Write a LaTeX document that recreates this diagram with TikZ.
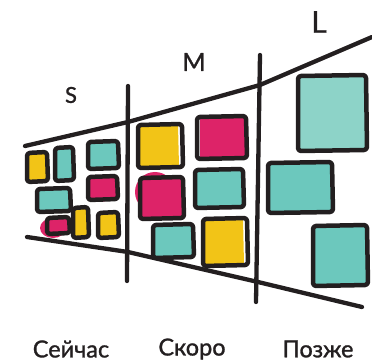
\documentclass[tikz,border=0pt]{standalone}
\usepackage{fontspec}
\setmainfont{Lato}[FakeBold=1.2]
\definecolor{notey}{HTML}{F2C417}
\definecolor{notem}{HTML}{DD2368}
\definecolor{notet}{HTML}{6CC8BD}
\definecolor{notel}{HTML}{8DD3C8}
\definecolor{ink}{HTML}{231F20}

% one hand drawn sticky note: fill style, x1, y1, x2, y2
\newcommand{\stickynote}[5]{
  \fill[#1] (#2+1,#3+1) -- (#4-1,#3) -- (#4,#5-1) -- (#2+1,#5) -- cycle;
  \draw[note edge] (#2,#3) -- (#4,#3-1) -- (#4+1,#5) -- (#2,#5+1) -- cycle;
}

\begin{document}
\begin{tikzpicture}[
    x=1pt, y=-1pt,
    frame line/.style={draw=ink, line width=4.3pt, line cap=round},
    note edge/.style={draw=ink, line width=4.5pt, rounded corners=3pt, line join=round},
    size label/.style={text=ink, inner sep=0pt},
    time label/.style={text=ink, inner sep=0pt, font=\fontsize{23.5}{26}\selectfont}
]
\useasboundingbox (0,0) rectangle (372,363);

% magenta blobs behind the notes
\fill[notem] (155,192) ellipse [x radius=20, y radius=20];
\fill[notem] (53,228) ellipse [x radius=13, y radius=10];
\fill[notem] (100,194) ellipse [x radius=12, y radius=8];

% S column
\stickynote{notey}{27}{153}{47}{181}
\stickynote{notet}{55}{148}{73}{180}
\stickynote{notet}{88}{142}{118}{168}
\stickynote{notem}{88}{177}{117}{199}
\stickynote{notet}{37}{189}{70}{211}
\stickynote{notem}{47}{218}{69}{233}
\stickynote{notey}{73}{208}{88}{237}
\stickynote{notey}{98}{213}{118}{237}

% M column
\stickynote{notey, xshift=-3pt}{138}{125}{182}{167}
\stickynote{notem, xshift=2pt}{197}{117}{246}{158}
\stickynote{notem}{140}{178}{183}{218}
\stickynote{notet}{195}{170}{243}{207}
\stickynote{notet}{153}{225}{193}{257}
\stickynote{notey, xshift=-3pt}{203}{219}{247}{265}

% L column
\stickynote{notel}{298}{76}{366}{150}
\stickynote{notet}{268}{163}{332}{212}
\stickynote{notet}{313}{226}{367}{285}

% frame of the funnel
\draw[frame line] (25,146) -- (128,122) -- (260,85) -- (372,37);
\draw[frame line] (27,237) -- (128,252) -- (258,282) -- (362,307);
\draw[frame line] (128,86) -- (127,281);
\draw[frame line] (260,55) -- (256,302);

% labels
\node[size label, font=\fontsize{22}{24}\selectfont] (S) at (71,95) {S};
\node[size label, font=\fontsize{25}{28}\selectfont] (M) at (194,62) {M};
\node[size label, font=\fontsize{30}{32}\selectfont] (L) at (319,22) {L};
\node[time label] (SB) at (71,349) {Сейчас};
\node[time label] (MB) at (192,349) {Скоро};
\node[time label] (LB) at (318,349) {Позже};
\end{tikzpicture}
\end{document}
